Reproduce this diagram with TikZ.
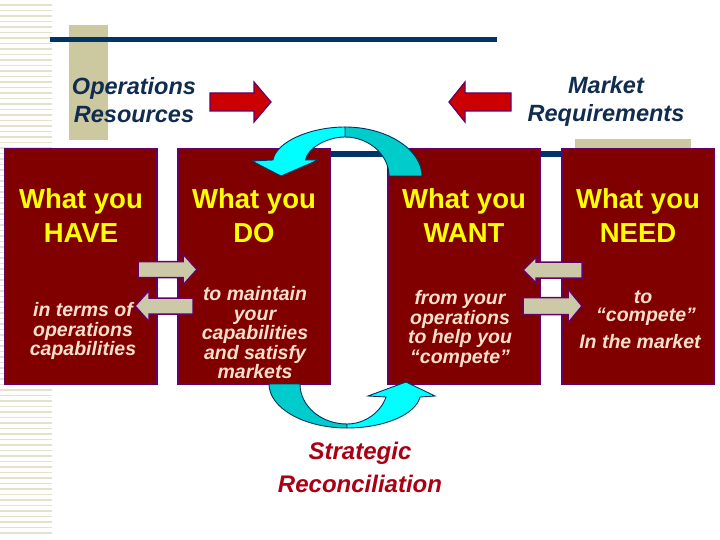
\documentclass[tikz,border=0pt]{standalone}
\usepackage{fontspec}
\setmainfont{Liberation Sans}
\usetikzlibrary{positioning}

\definecolor{boxred}{RGB}{128,0,0}
\definecolor{boxline}{RGB}{102,0,102}
\definecolor{headyellow}{RGB}{255,255,0}
\definecolor{notecream}{RGB}{250,224,204}
\definecolor{linenavy}{RGB}{0,51,102}
\definecolor{labelnavy}{RGB}{16,44,80}
\definecolor{bartan}{RGB}{204,200,160}
\definecolor{stripetan}{RGB}{228,225,205}
\definecolor{arrowred}{RGB}{204,0,0}
\definecolor{arrowgrey}{RGB}{204,201,168}
\definecolor{cyanlight}{RGB}{0,255,255}
\definecolor{cyandark}{RGB}{0,204,204}
\definecolor{reconred}{RGB}{170,0,20}

\begin{document}
\begin{tikzpicture}[x=1pt,y=-1pt,
  box/.style={draw=boxline,line width=1.5pt,fill=boxred,minimum width=152pt,minimum height=235pt,inner sep=0pt},
  headtxt/.style={text=headyellow,font=\fontsize{27.5}{34}\selectfont\bfseries,align=center,inner sep=0pt},
  notetxt/.style={text=notecream,font=\fontsize{19.5}{19.5}\selectfont\bfseries\itshape,align=center,inner sep=0pt},
  sidelabel/.style={text=labelnavy,font=\fontsize{23.5}{28}\selectfont\bfseries\itshape,align=center,inner sep=0pt},
  redarrow/.style={fill=arrowred,draw=boxline,line width=1.2pt,line join=miter},
  greyarrow/.style={fill=arrowgrey,draw=boxline,line width=1.5pt,line join=miter},
  ribbon/.style={draw=linenavy,line width=0.9pt}]
  \useasboundingbox (0,0) rectangle (720,540);
  \fill[white] (0,0) rectangle (720,540);

  % background decoration
  \foreach \y in {5,10.5,...,535}
    \draw[stripetan,line width=1.5pt] (0,\y) -- (52,\y);
  \fill[bartan] (69,25) rectangle (108,140);
  \fill[bartan] (575,139) rectangle (691,150);
  \fill[linenavy] (50,37) rectangle (497,42);
  \fill[linenavy] (330,151) rectangle (566,157);

  % the four boxes
  \node[box] (have) at (81,266.5) {};
  \node[box,right=19.5pt of have] (do) {};
  \node[box,right=56.5pt of do] (want) {};
  \node[box,right=20.5pt of want] (need) {};

  % strategic reconciliation ribbons
  \filldraw[ribbon,fill=cyandark] (345,127) .. controls (387.5,127) and (422,150) .. (422,176)
    -- (389,176) .. controls (389,155) and (369,137) .. (345,137) -- cycle;
  \filldraw[ribbon,fill=cyanlight] (345,127) .. controls (310,127) and (276,142) .. (273,160)
    -- (252,161) -- (281,176) -- (318,160) -- (305.5,160)
    .. controls (307,149) and (326,137) .. (345,137) -- cycle;
  \filldraw[ribbon,fill=cyandark] (269,384) .. controls (269,408) and (304,428) .. (347,428)
    -- (347,424) .. controls (321,424) and (300,406) .. (300,384) -- cycle;
  \filldraw[ribbon,fill=cyanlight] (347,428) .. controls (385,428) and (416,414) .. (420,397)
    -- (435,396) -- (406,382) -- (368,396) -- (386,397)
    .. controls (381,412) and (365,424) .. (347,424) -- cycle;

  % box texts
  \node[headtxt] (haveH) at ([yshift=-67pt]have.north) {What you\\HAVE};
  \node[headtxt] (doH) at ([yshift=-67pt]do.north) {What you\\DO};
  \node[headtxt] (wantH) at ([yshift=-67pt]want.north) {What you\\WANT};
  \node[headtxt] (needH) at ([yshift=-67pt]need.north) {What you\\NEED};
  \node[notetxt] (haveN) at (83,331) {in terms of\\operations\\capabilities};
  \node[notetxt] (doN) at (255,333) {to maintain\\your\\capabilities\\and satisfy\\markets};
  \node[notetxt] (wantN) at (460,329) {from your\\operations\\to help you\\“compete”};
  \node[notetxt] (needT) at (643,297) {to};
  \node[notetxt] (needC) at (646,317) {“compete”};
  \node[notetxt] (needM) at (640,342) {In the market};

  % exchange arrows between the boxes
  \draw[greyarrow] (138,261.5) -- (183,261.5) -- (183,254) -- (197,269.5) -- (183,285)
    -- (183,277.5) -- (138,277.5) -- cycle;
  \draw[greyarrow] (193,298) -- (149,298) -- (149,290.5) -- (135,306) -- (149,321.5)
    -- (149,314) -- (193,314) -- cycle;
  \draw[greyarrow] (582,262) -- (536,262) -- (536,257) -- (523,270) -- (536,283)
    -- (536,278) -- (582,278) -- cycle;
  \draw[greyarrow] (523,297.5) -- (568,297.5) -- (568,289) -- (582,306) -- (568,323)
    -- (568,314.5) -- (523,314.5) -- cycle;

  % top labels and arrows
  \node[sidelabel] (ops) at (134,100) {Operations\\Resources};
  \node[sidelabel] (market) at (606,101) {Market\\Requirements};
  \draw[redarrow] (210,93) -- (254,93) -- (254,82) -- (271,102) -- (254,122) -- (254,111)
    -- (210,111) -- cycle;
  \draw[redarrow] (511,93) -- (465,93) -- (465,82) -- (449,102) -- (465,122) -- (465,111)
    -- (511,111) -- cycle;

  \node[text=reconred,font=\fontsize{24}{33}\selectfont\bfseries\itshape,align=center,inner sep=0pt]
    (recon) at (360,467) {Strategic\\Reconciliation};
\end{tikzpicture}
\end{document}
